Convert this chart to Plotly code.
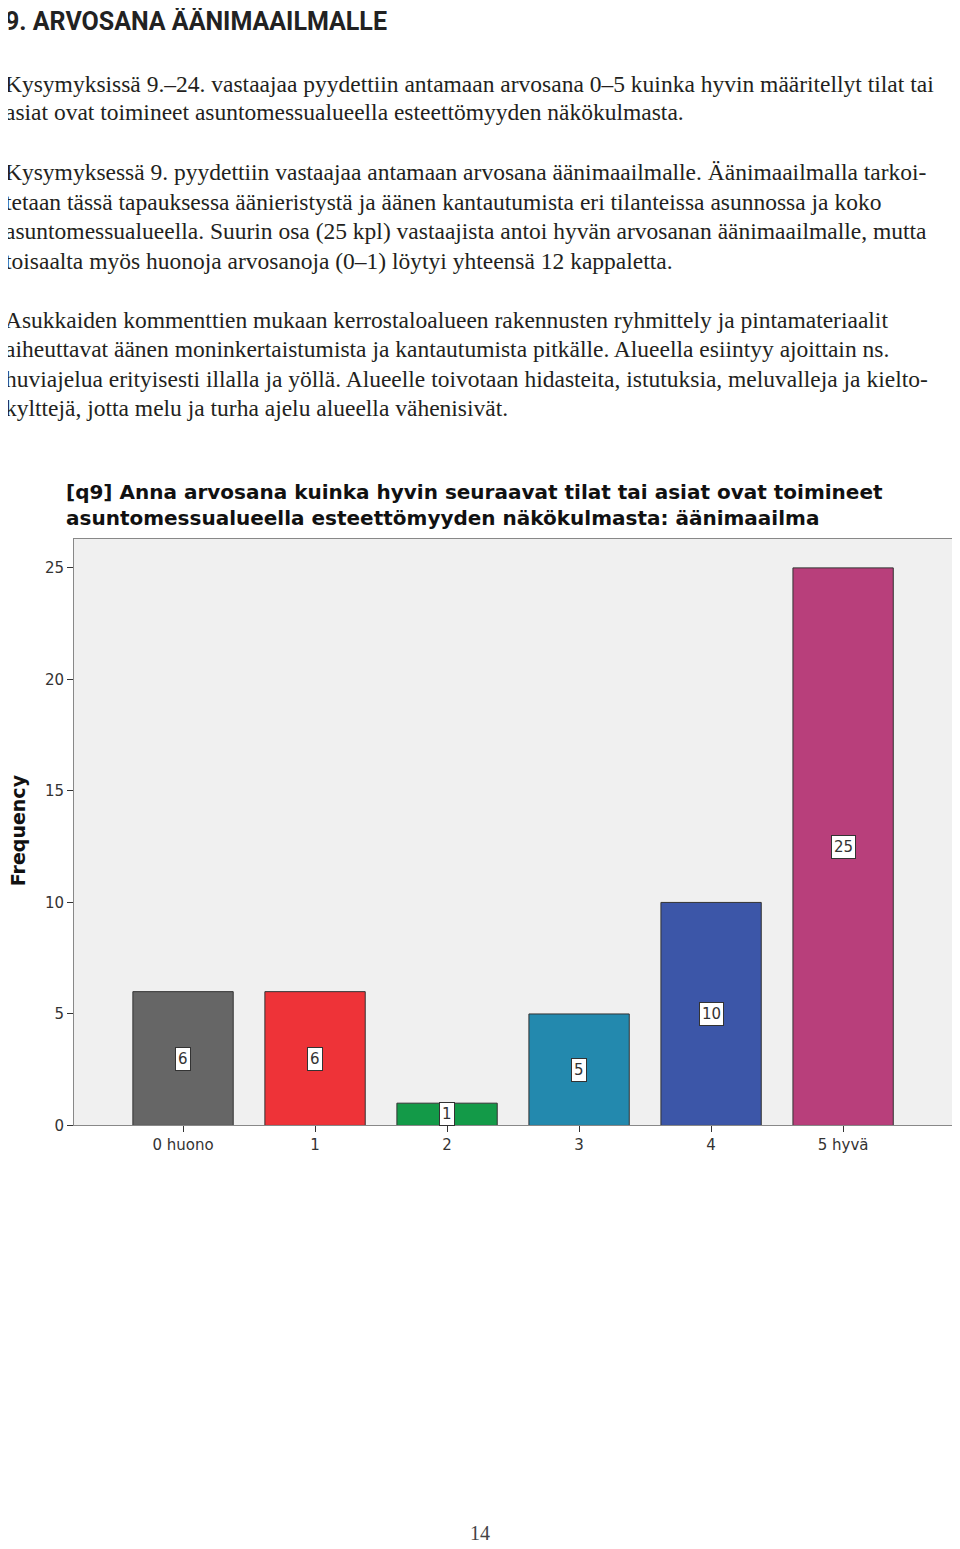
import plotly.graph_objects as go

categories = ["0 huono", "1", "2", "3", "4", "5 hyvä"]
values = [6, 6, 1, 5, 10, 25]
colors = ["#666666", "#EE3338", "#139A48", "#2389AE", "#3C56A8", "#B83F7B"]

heading = "9. ARVOSANA ÄÄNIMAAILMALLE"
body_lines = [
    (82, "Kysymyksissä 9.–24. vastaajaa pyydettiin antamaan arvosana 0–5 kuinka hyvin määritellyt tilat tai"),
    (111, "asiat ovat toimineet asuntomessualueella esteettömyyden näkökulmasta."),
    (171, "Kysymyksessä 9. pyydettiin vastaajaa antamaan arvosana äänimaailmalle. Äänimaailmalla tarkoi-"),
    (201, "tetaan tässä tapauksessa äänieristystä ja äänen kantautumista eri tilanteissa asunnossa ja koko"),
    (230, "asuntomessualueella. Suurin osa (25 kpl) vastaajista antoi hyvän arvosanan äänimaailmalle, mutta"),
    (260, "toisaalta myös huonoja arvosanoja (0–1) löytyi yhteensä 12 kappaletta."),
    (320, "Asukkaiden kommenttien mukaan kerrostaloalueen rakennusten ryhmittely ja pintamateriaalit"),
    (349, "aiheuttavat äänen moninkertaistumista ja kantautumista pitkälle. Alueella esiintyy ajoittain ns."),
    (379, "huviajelua erityisesti illalla ja yöllä. Alueelle toivotaan hidasteita, istutuksia, meluvalleja ja kielto-"),
    (408, "kylttejä, jotta melu ja turha ajelu alueella vähenisivät."),
]
chart_title = "[q9] Anna arvosana kuinka hyvin seuraavat tilat tai asiat ovat toimineet<br>asuntomessualueella esteettömyyden näkökulmasta: äänimaailma"

W, H = 960, 1549
OX, OY = 8, 6
px = lambda x: (x - OX) / W
py = lambda y: 1 - (y - OY) / H

fig = go.Figure(go.Bar(
    x=list(range(len(categories))), y=values,
    marker=dict(color=colors, line=dict(color="#333333", width=1)),
    width=0.76, showlegend=False,
))

ann = [dict(x=px(3), y=py(20), xref="paper", yref="paper", xanchor="left", yanchor="middle",
            text="<b>" + heading + "</b>", showarrow=False,
            font=dict(family="Roboto", size=25, color="#222222"))]
for y, t in body_lines:
    ann.append(dict(x=px(3), y=py(y), xref="paper", yref="paper", xanchor="left", yanchor="middle",
                    text=t, showarrow=False,
                    font=dict(family="Liberation Serif", size=23.5, color="#231f20")))
ann.append(dict(x=px(474), y=py(506), xref="paper", yref="paper", xanchor="center", yanchor="middle",
                text="<b>" + chart_title + "</b>", showarrow=False, align="left",
                font=dict(family="DejaVu Sans", size=20, color="#111111")))
ann.append(dict(x=px(18), y=py(833), xref="paper", yref="paper", xanchor="center", yanchor="middle",
                text="<b>Frequency</b>", textangle=-90, showarrow=False,
                font=dict(family="DejaVu Sans", size=19, color="#111111")))
ann.append(dict(x=px(480), y=py(1540), xref="paper", yref="paper", xanchor="center", yanchor="middle",
                text="14", showarrow=False,
                font=dict(family="Liberation Serif", size=20, color="#444444")))
for i, v in enumerate(values):
    ann.append(dict(x=i, y=max(v / 2, 0.5), xref="x", yref="y", text=str(v), showarrow=False,
                    bgcolor="white", bordercolor="#333333", borderwidth=1, borderpad=2,
                    font=dict(family="DejaVu Sans", size=15, color="#333333")))

fig.update_layout(
    width=W, height=H, margin=dict(l=0, r=0, t=0, b=0),
    paper_bgcolor="white", plot_bgcolor="#F0F0F0",
    annotations=ann, bargap=0.24,
    xaxis=dict(domain=[px(74), px(954)], range=[-0.826, 5.84], tickmode="array",
               tickvals=list(range(len(categories))), ticktext=categories,
               ticks="outside", ticklen=6, tickcolor="#333", showgrid=False,
               showline=True, linecolor="#888", mirror=True,
               tickfont=dict(family="DejaVu Sans", size=15, color="#333")),
    yaxis=dict(domain=[py(1130), py(540)], range=[0, 26.3], tickvals=[0, 5, 10, 15, 20, 25],
               ticks="outside", ticklen=6, tickcolor="#333", showgrid=False, zeroline=False,
               showline=True, linecolor="#888", mirror=True,
               tickfont=dict(family="DejaVu Sans", size=15, color="#333")),
)
fig.write_html("out.html")
